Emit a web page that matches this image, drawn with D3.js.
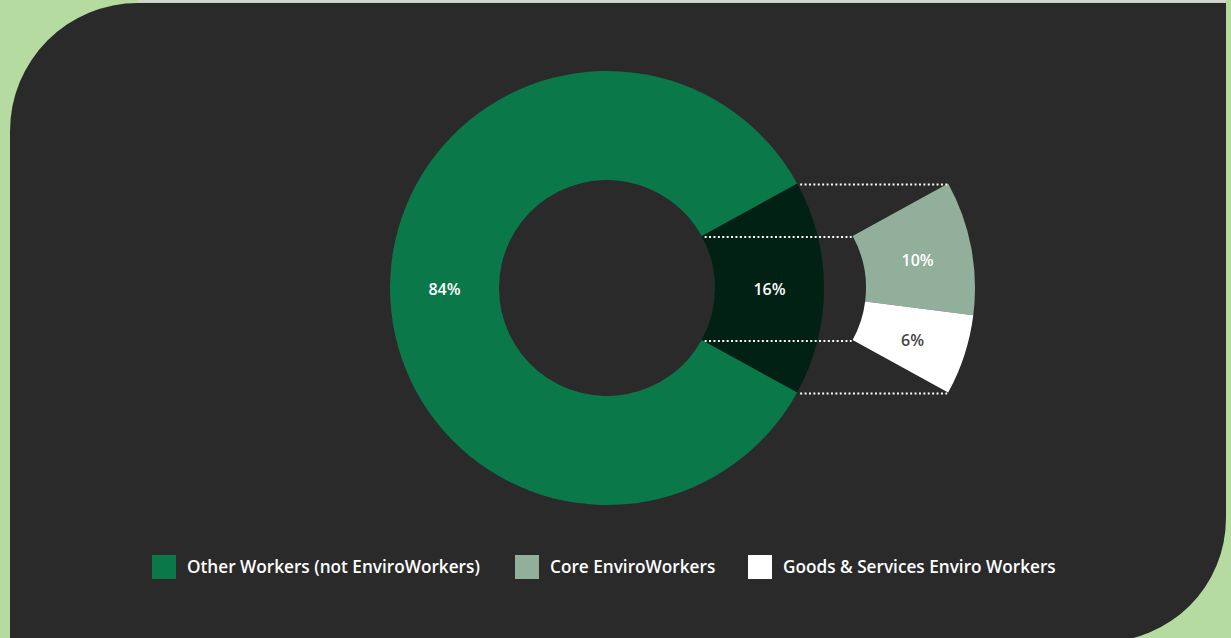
<!DOCTYPE html>
<html>
<head>
<meta charset="utf-8">
<script src="https://cdn.jsdelivr.net/npm/d3@7/dist/d3.min.js"></script>
<style>
  html, body { margin: 0; padding: 0; background: #b6dba0; }
  svg { display: block; }
</style>
</head>
<body>
<svg id="chart" width="1231" height="638"></svg>
<script>
// Share of workers by category
const mainCategories = ["Enviro Workers", "Other Workers (not EnviroWorkers)"];
const mainValues = [16, 84];
const mainColors = ["#002113", "#0b7849"];

// Breakdown of the enviro workers slice
const subCategories = ["Core EnviroWorkers", "Goods & Services Enviro Workers"];
const subValues = [10, 6];
const subColors = ["#91af9a", "#ffffff"];
const subLabelColors = ["#ffffff", "#444444"];

// Legend entries
const legendLabels = ["Other Workers (not EnviroWorkers)", "Core EnviroWorkers", "Goods & Services Enviro Workers"];
const legendColors = ["#0b7849", "#91af9a", "#ffffff"];

const W = 1231, H = 638;
const svg = d3.select("#chart");

// Background panel: rounded top-left and bottom-right corners
const px0 = 10, py0 = 3, px1 = 1226, py1 = 642, rTL = 128, rBR = 124;
svg.append("rect").attr("x", 0).attr("y", 0).attr("width", W).attr("height", H).attr("fill", "#b6dba0");
svg.append("path")
  .attr("d", `M${px0},${py0 + rTL} A${rTL},${rTL} 0 0 1 ${px0 + rTL},${py0} L${px1},${py0} L${px1},${py1 - rBR} A${rBR},${rBR} 0 0 1 ${px1 - rBR},${py1} L${px0},${py1} Z`)
  .attr("fill", "#2a2a2a");
svg.append("rect").attr("x", px0 + rTL).attr("y", 0).attr("width", px1 - px0 - rTL).attr("height", 2.5).attr("fill", "#d4d4d4");

const cx = 607, cy = 288, subCx = 758;
const rOuter = 217, rInner = 108;
const half = mainValues[0] / d3.sum(mainValues) * Math.PI;

const arc = d3.arc().innerRadius(rInner).outerRadius(rOuter);
const labelArc = d3.arc().innerRadius((rInner + rOuter) / 2).outerRadius((rInner + rOuter) / 2);

const mainPie = d3.pie().sort(null)
  .startAngle(Math.PI / 2 - half).endAngle(Math.PI / 2 - half + 2 * Math.PI);
const subPie = d3.pie().sort(null)
  .startAngle(Math.PI / 2 - half).endAngle(Math.PI / 2 + half);

const mainArcs = mainPie(mainValues);
const subArcs = subPie(subValues);

const labelFont = "'Open Sans', 'Noto Sans', sans-serif";

// Main donut
const gMain = svg.append("g").attr("transform", `translate(${cx},${cy})`);
gMain.selectAll("path").data(mainArcs).join("path")
  .attr("d", arc).attr("fill", (d, i) => mainColors[i]);
gMain.selectAll("text").data(mainArcs).join("text")
  .attr("transform", d => `translate(${labelArc.centroid(d)})`)
  .attr("text-anchor", "middle").attr("dy", "0.42em")
  .attr("font-family", labelFont).attr("font-weight", 600).attr("font-size", 16)
  .attr("fill", "#ffffff")
  .text(d => d.data + "%");

// Breakdown segment
const gSub = svg.append("g").attr("transform", `translate(${subCx},${cy})`);
gSub.selectAll("path").data(subArcs).join("path")
  .attr("d", arc).attr("fill", (d, i) => subColors[i]);
gSub.selectAll("text").data(subArcs).join("text")
  .attr("transform", d => `translate(${labelArc.centroid(d)})`)
  .attr("text-anchor", "middle").attr("dy", "0.5em")
  .attr("font-family", labelFont).attr("font-weight", 600).attr("font-size", 16)
  .attr("fill", (d, i) => subLabelColors[i])
  .text(d => d.data + "%");

// Dotted connector lines between the slice and its breakdown
const edgeAngles = [Math.PI / 2 - half, Math.PI / 2 + half];
const connectors = [];
edgeAngles.forEach(a => {
  [rOuter, rInner].forEach(r => {
    const dx = r * Math.sin(a), dy = -r * Math.cos(a);
    connectors.push({ x1: cx + dx, x2: subCx + dx, y: cy + dy });
  });
});
svg.append("g").selectAll("line").data(connectors).join("line")
  .attr("x1", d => d.x1 + 3).attr("x2", d => d.x2 - 1)
  .attr("y1", d => d.y + 1).attr("y2", d => d.y + 1)
  .attr("stroke", "#ffffff").attr("stroke-width", 2)
  .attr("stroke-dasharray", "2,2.4");

// Legend
const legendX = [152, 515, 748];
const gLeg = svg.append("g");
legendLabels.forEach((lab, i) => {
  gLeg.append("rect").attr("x", legendX[i]).attr("y", 555).attr("width", 24).attr("height", 24)
    .attr("fill", legendColors[i]);
  gLeg.append("text").attr("x", legendX[i] + 35).attr("y", 573)
    .attr("font-family", labelFont).attr("font-weight", 600).attr("font-size", 17.2)
    .attr("fill", "#ffffff").text(lab);
});
</script>
</body>
</html>
